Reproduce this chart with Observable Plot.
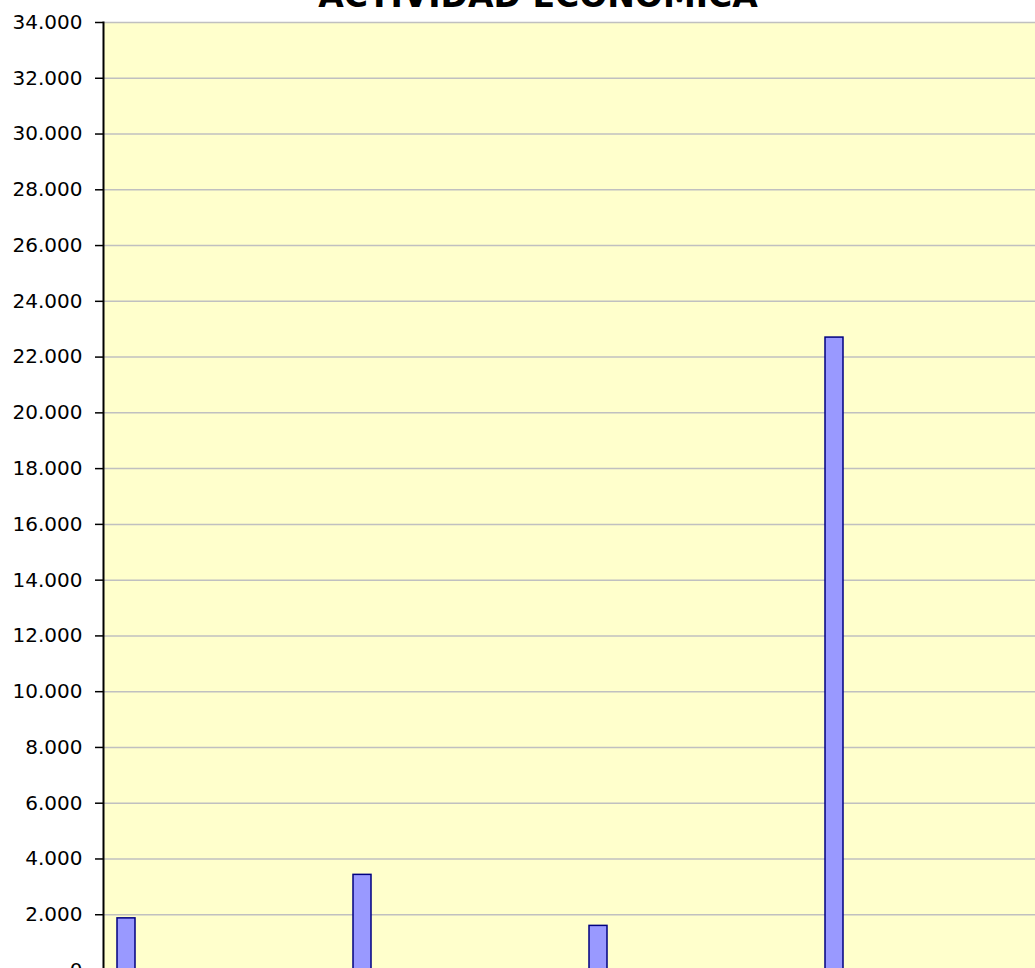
<!DOCTYPE html>
<html>
<head>
<meta charset="utf-8">
<script src="https://cdn.jsdelivr.net/npm/d3@7"></script>
<script src="https://cdn.jsdelivr.net/npm/@observablehq/plot@0.6"></script>
<style>
  html, body { margin: 0; padding: 0; background: #fff; overflow: hidden; }
  #wrap { position: relative; width: 1035px; height: 968px; }
  #title { position: absolute; left: 0; width: 1076px; top: -21px; text-align: center;
    font: bold 33px "DejaVu Sans", Verdana, sans-serif; line-height: 33px; color: #000; white-space: nowrap; }
</style>
</head>
<body>
<div id="wrap"><div id="title">ACTIVIDAD ECONÓMICA</div><div id="chart"></div></div>
<script>
const title = "ACTIVIDAD ECONÓMICA";
const categories = ["A", "B", "C", "D"];
const values = [1870, 3430, 1600, 22700];
const yTicks = [0, 2000, 4000, 6000, 8000, 10000, 12000, 14000, 16000, 18000, 20000, 22000, 24000, 26000, 28000, 30000, 32000, 34000];

const data = categories.map((c, i) => ({ category: c, value: values[i] }));
const fmt = d3.formatLocale({ decimal: ",", thousands: ".", grouping: [3], currency: ["", ""] }).format(",");

const chart = Plot.plot({
  width: 1035,
  height: 1000,
  marginTop: 22,
  marginBottom: 30,
  marginLeft: 103,
  marginRight: 0,
  style: { fontFamily: "'DejaVu Sans', Verdana, sans-serif", fontSize: "20px", color: "#000", background: "transparent" },
  x: { type: "band", domain: categories, range: [8, 952], paddingInner: 0.925, paddingOuter: 0.4625, axis: null },
  y: { domain: [0, 34000], ticks: yTicks, tickFormat: fmt, tickSize: 8, tickPadding: 13, label: null },
  marks: [
    Plot.frame({ fill: "#FFFFCC", stroke: null }),
    Plot.gridY(yTicks, { stroke: "#C0C0C0", strokeOpacity: 1, strokeWidth: 1.5 }),
    Plot.barY(data, { x: "category", y: "value", fill: "#9999FF", stroke: "#000080", strokeWidth: 1.5 }),
    Plot.frame({ anchor: "left", stroke: "#000", strokeWidth: 2 }),
    Plot.axisY(yTicks, { tickFormat: fmt, tickSize: 8, tickPadding: 13, stroke: "#000", strokeWidth: 1.5, fill: "#000", fontSize: 20, label: null })
  ]
});
document.getElementById("chart").appendChild(chart);
</script>
</body>
</html>
